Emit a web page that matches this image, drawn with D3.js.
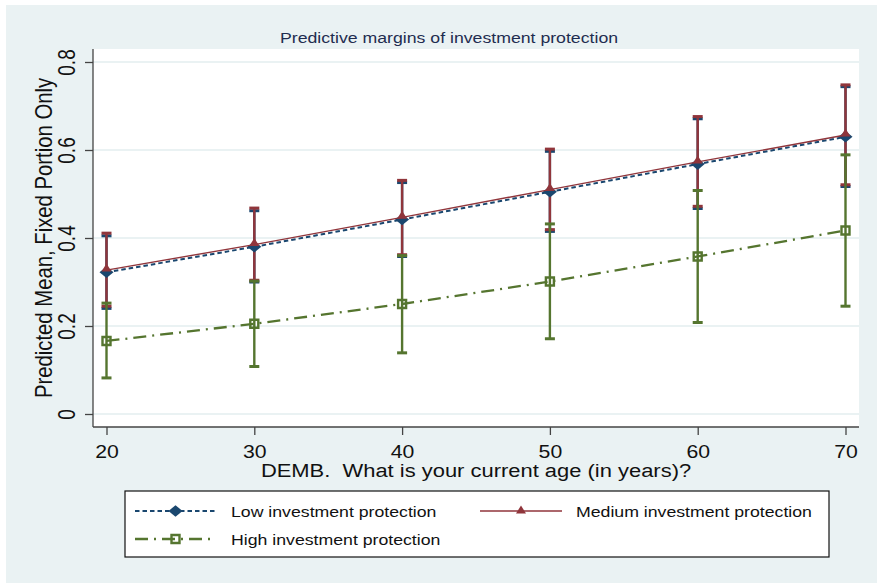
<!DOCTYPE html>
<html>
<head>
<meta charset="utf-8">
<script src="https://cdn.jsdelivr.net/npm/d3@7"></script>
<style>
  body { margin: 0; background: #ffffff; }
  svg { display: block; font-family: "Liberation Sans", Arial, sans-serif; }
</style>
</head>
<body>
<svg id="chart" width="880" height="583"></svg>
<script>
// Predictive margins by age, for three levels of investment protection
const ages = [20, 30, 40, 50, 60, 70];
const yTicks = [0, 0.2, 0.4, 0.6, 0.8];

const lowMean  = [0.322, 0.380, 0.442, 0.505, 0.568, 0.630];
const lowLower = [0.240, 0.300, 0.358, 0.415, 0.467, 0.517];
const lowUpper = [0.405, 0.462, 0.526, 0.597, 0.671, 0.744];

const medMean  = [0.327, 0.385, 0.447, 0.510, 0.573, 0.634];
const medLower = [0.245, 0.304, 0.362, 0.419, 0.472, 0.521];
const medUpper = [0.411, 0.468, 0.531, 0.602, 0.676, 0.748];

const highMean  = [0.166, 0.205, 0.250, 0.301, 0.358, 0.417];
const highLower = [0.082, 0.108, 0.139, 0.171, 0.208, 0.245];
const highUpper = [0.252, 0.302, 0.360, 0.432, 0.508, 0.589];

const seriesNames = ["Low investment protection", "Medium investment protection", "High investment protection"];

const titleText = "Predictive margins of investment protection";
const xTitle = "DEMB.  What is your current age (in years)?";
const yTitle = "Predicted Mean, Fixed Portion Only";

// Styling
const BG = "#eaf2f3";
const NAVY = "#1a476f", MAROON = "#90353b", GREEN = "#55752f";
const SX = 1.18; // horizontal text stretch

const svg = d3.select("#chart");
const frame = { left: 93, right: 859, top: 49, bottom: 427 };

const x = d3.scaleLinear().domain([20, 70]).range([106.5, 845.5]);
const y = d3.scaleLinear().domain([0, 0.8]).range([414, 62]);

// Backgrounds
svg.append("rect").attr("x", 0).attr("y", 0).attr("width", 880).attr("height", 583).attr("fill", "#ffffff");
svg.append("rect").attr("x", 6).attr("y", 5).attr("width", 871).attr("height", 578).attr("fill", BG);
svg.append("rect").attr("x", frame.left).attr("y", frame.top)
  .attr("width", frame.right - frame.left).attr("height", frame.bottom - frame.top).attr("fill", "#ffffff");

// Gridlines
svg.append("g").selectAll("line").data(yTicks).join("line")
  .attr("x1", frame.left).attr("x2", frame.right)
  .attr("y1", d => y(d)).attr("y2", d => y(d))
  .attr("stroke", BG).attr("stroke-width", 2);

// Title
svg.append("text")
  .attr("transform", `translate(449,43) scale(${SX},1)`)
  .attr("text-anchor", "middle").attr("font-size", 15).attr("fill", "#1f2d50")
  .text(titleText);

// Axes
const xAxis = svg.append("g").attr("transform", `translate(0,${frame.bottom})`)
  .call(d3.axisBottom(x).tickValues(ages).tickSize(8).tickFormat(d3.format("d")));
xAxis.select(".domain").remove();
xAxis.selectAll(".tick line").attr("stroke", "#444").attr("stroke-width", 1.3);
xAxis.selectAll(".tick text")
  .attr("y", 31).attr("dy", null)
  .attr("transform", `scale(${SX},1)`)
  .attr("font-size", 18).attr("fill", "#111").attr("font-family", "Liberation Sans, Arial, sans-serif");

const yAxis = svg.append("g").attr("transform", `translate(${frame.left},0)`)
  .call(d3.axisLeft(y).tickValues(yTicks).tickSize(8).tickFormat(d => d === 0 ? "0" : d3.format(".1f")(d)));
yAxis.select(".domain").remove();
yAxis.selectAll(".tick line").attr("stroke", "#444").attr("stroke-width", 1.3);
yAxis.selectAll(".tick text")
  .attr("x", null).attr("dy", null)
  .attr("text-anchor", "middle")
  .attr("transform", `translate(-18,0) scale(1.25,1) rotate(-90)`)
  .attr("font-size", 19).attr("fill", "#111").attr("font-family", "Liberation Sans, Arial, sans-serif");

// Axis lines
svg.append("line").attr("x1", frame.left).attr("x2", frame.left)
  .attr("y1", frame.top).attr("y2", frame.bottom).attr("stroke", "#444").attr("stroke-width", 1.3);
svg.append("line").attr("x1", frame.left).attr("x2", frame.right)
  .attr("y1", frame.bottom).attr("y2", frame.bottom).attr("stroke", "#444").attr("stroke-width", 1.3);

// Axis titles
svg.append("text")
  .attr("transform", `translate(476,477) scale(${SX},1)`)
  .attr("text-anchor", "middle").attr("font-size", 18.6).attr("fill", "#111")
  .style("white-space", "pre")
  .text(xTitle);
svg.append("text")
  .attr("transform", `translate(52,238) scale(${SX},1) rotate(-90)`)
  .attr("text-anchor", "middle").attr("font-size", 20.3).attr("fill", "#111")
  .text(yTitle);

// Series
const series = [
  { name: seriesNames[0], mean: lowMean, lower: lowLower, upper: lowUpper, color: NAVY,
    dash: "4.5,3", width: 2, marker: "diamond" },
  { name: seriesNames[1], mean: medMean, lower: medLower, upper: medUpper, color: MAROON,
    dash: null, width: 1.4, marker: "triangle" },
  { name: seriesNames[2], mean: highMean, lower: highLower, upper: highUpper, color: GREEN,
    dash: "13,6,2,6", width: 2.3, marker: "square" }
];

// Confidence intervals
const ciLayer = svg.append("g");
series.forEach(s => {
  const g = ciLayer.append("g");
  const pts = ages.map((a, i) => ({ a, lo: s.lower[i], hi: s.upper[i] }));
  g.selectAll("line.bar").data(pts).join("line").attr("class", "bar")
    .attr("x1", d => x(d.a)).attr("x2", d => x(d.a))
    .attr("y1", d => y(d.lo)).attr("y2", d => y(d.hi))
    .attr("stroke", s.color).attr("stroke-width", 2.4);
  ["lo", "hi"].forEach(k => {
    g.selectAll("line.cap-" + k).data(pts).join("line").attr("class", "cap-" + k)
      .attr("x1", d => x(d.a) - 5).attr("x2", d => x(d.a) + 5)
      .attr("y1", d => y(d[k])).attr("y2", d => y(d[k]))
      .attr("stroke", s.color).attr("stroke-width", 3);
  });
});

function markerPath(type) {
  if (type === "diamond") return "M0,-5.8L7,0L0,5.8L-7,0Z";
  if (type === "triangle") return "M0,-5.5L5,2.5L-5,2.5Z";
  return "M-4,-4L4,-4L4,4L-4,4Z";
}
function drawMarker(g, type, color, cx, cy) {
  const p = g.append("path").attr("d", markerPath(type))
    .attr("transform", `translate(${cx},${cy})`);
  if (type === "square") {
    p.attr("fill", "none").attr("stroke", color).attr("stroke-width", 2.4);
  } else {
    p.attr("fill", color).attr("stroke", "none");
  }
}

// Connected lines and markers
const lineLayer = svg.append("g");
series.forEach(s => {
  const g = lineLayer.append("g");
  const line = d3.line().x((d, i) => x(ages[i])).y(d => y(d));
  g.append("path").attr("d", line(s.mean))
    .attr("fill", "none").attr("stroke", s.color).attr("stroke-width", s.width)
    .attr("stroke-dasharray", s.dash);
  s.mean.forEach((v, i) => drawMarker(g, s.marker, s.color, x(ages[i]), y(v) - (s.marker === "triangle" ? 1 : 0)));
});

// Legend
const legend = svg.append("g");
legend.append("rect").attr("x", 125).attr("y", 491).attr("width", 704).attr("height", 66)
  .attr("fill", "#ffffff").attr("stroke", "#111").attr("stroke-width", 1.2);
const legendPos = [
  { x0: 135, x1: 216, tx: 231, y: 511 },
  { x0: 480, x1: 562, tx: 576, y: 511 },
  { x0: 135, x1: 216, tx: 231, y: 539 }
];
series.forEach((s, i) => {
  const p = legendPos[i];
  legend.append("line").attr("x1", p.x0).attr("x2", p.x1).attr("y1", p.y).attr("y2", p.y)
    .attr("stroke", s.color).attr("stroke-width", s.width).attr("stroke-dasharray", s.dash);
  drawMarker(legend, s.marker, s.color, (p.x0 + p.x1) / 2, p.y);
  legend.append("text")
    .attr("transform", `translate(${p.tx},${p.y + 5.5}) scale(${SX},1)`)
    .attr("font-size", 15).attr("fill", "#111")
    .text(s.name);
});
</script>
</body>
</html>
